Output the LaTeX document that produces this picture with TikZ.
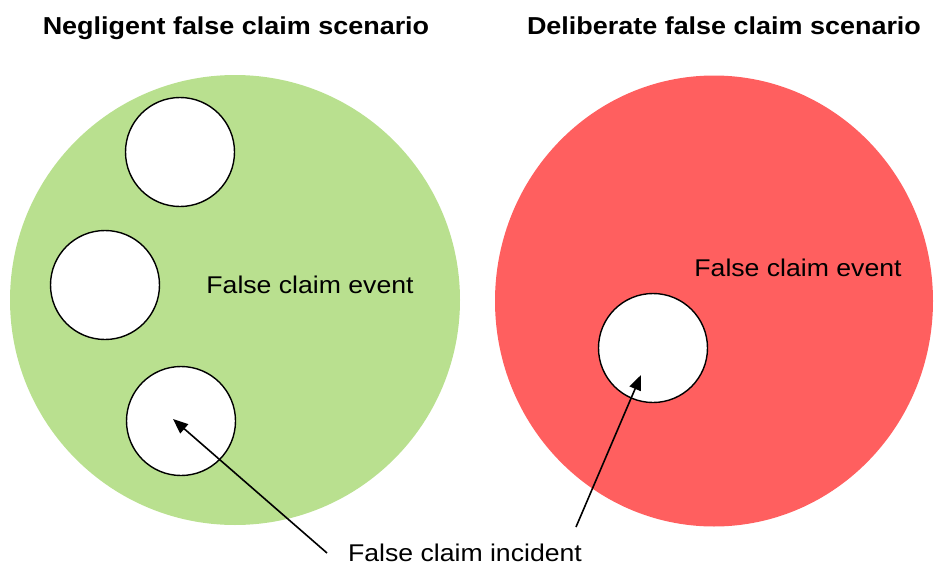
\documentclass[tikz,border=0pt]{standalone}
\usepackage{fontspec}
\setmainfont[FakeStretch=1.1]{Liberation Sans}
\usetikzlibrary{arrows.meta,shapes.geometric}
\definecolor{eventgreen}{RGB}{185,224,143}
\definecolor{eventred}{RGB}{255,95,95}
\tikzset{
  event/.style={ellipse, fill=#1, inner sep=0pt},
  incident/.style={circle, draw, fill=white, line width=1.4pt, minimum size=109pt, inner sep=0pt},
  caption/.style={font=\fontsize{24.2}{29}\selectfont, anchor=base, inner sep=0pt},
  heading/.style={font=\bfseries\fontsize{24.5}{29}\selectfont, anchor=base, inner sep=0pt},
  pointer/.style={-{Triangle[length=15pt,width=12pt]}, line width=1.6pt}
}
\begin{document}
\begin{tikzpicture}[x=1pt, y=-1pt]
        \useasboundingbox (0,0) rectangle (935,565);
        \node[heading] (negTitle) at (236, 34) {Negligent false claim scenario};
        \node[heading] (delTitle) at (724, 34) {Deliberate false claim scenario};

        \node[event = eventgreen, minimum width = 450pt, minimum height = 450pt] (negEvent) at (235, 300) {};
        \node[event = eventred, minimum width = 438pt, minimum height = 451pt] (delEvent) at (714, 301) {};

        \node[incident] (negInc1) at (180, 152) {};
        \node[incident] (negInc2) at (105, 285) {};
        \node[incident] (negInc3) at (181, 421) {};
        \node[incident] (delInc) at (653, 348) {};

        \node[caption] (negLabel) at (310, 293) {False claim event};
        \node[caption] (delLabel) at (798, 276) {False claim event};
        \node[caption] (incLabel) at (465, 561) {False claim incident};

        \coordinate (negTail) at (327, 553);
        \coordinate (negTip) at (173, 419);
        \coordinate (delTail) at (576, 527);
        \coordinate (delTip) at (641, 375);

        \draw (negTail) edge[pointer] (negTip);
        \draw (delTail) edge[pointer] (delTip);
      \end{tikzpicture}
\end{document}
